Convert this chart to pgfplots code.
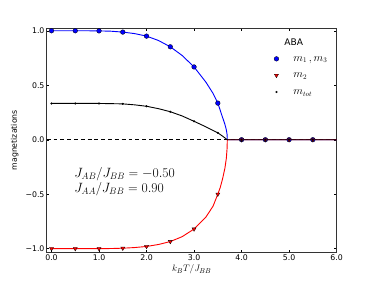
\documentclass[border=0pt]{standalone}
\usepackage{fontspec}
\setmainfont{DejaVu Sans}
\usepackage{pgfplots}
\pgfplotsset{compat=1.18}
\pgfplotsset{widemark/.style={legend image code/.code={\path[draw=none,fill=none] (0cm,0cm) -- (1.2cm,0cm); \draw[##1,mark repeat=2,mark phase=2] plot coordinates {(0cm,0cm)(0.35cm,0cm)(1.2cm,0cm)};}}}
\begin{document}
\begin{tikzpicture}
\useasboundingbox (0,0) rectangle (576pt,432pt);
\begin{axis}[
  at={(72pt,43.2pt)}, anchor=south west,
  width=446.4pt, height=345.6pt, scale only axis,
  xmin=-0.1, xmax=6, ymin=-1.035, ymax=1.025,
  xtick={0,1,2,3,4,5,6},
  xticklabels={0.0,1.0,2.0,3.0,4.0,5.0,6.0},
  ytick={-1,-0.5,0,0.5,1},
  yticklabels={−1.0,−0.5,0.0,0.5,1.0},
  tick align=inside,
  major tick length=4pt,
  tick style={black, line width=0.6pt},
  axis line style={line width=0.8pt, black!80},
  tick label style={font=\fontsize{12}{14}\selectfont},
  xlabel={$k_B T/J_{BB}$},
  ylabel={magnetizations},
  xlabel style={font=\fontsize{15}{18}\selectfont, at={(axis description cs:0.5,-0.076)}, anchor=center},
  ylabel style={font=\fontsize{12}{14}\selectfont, at={(axis description cs:-0.1107,0.5)}, anchor=center},
  legend style={draw=none, fill=none, at={(axis description cs:0.763,0.906)}, anchor=north west,
    font=\fontsize{16}{19}\selectfont, row sep=0pt,
    nodes={text height=13pt, text depth=5.5pt, inner ysep=3.5pt}},
  legend cell align=left,
  clip=true,
]
% zero line
\addplot[black, dashed, dash pattern=on 6pt off 4.5pt, line width=1pt, forget plot] coordinates {(-0.1,0) (6,0)};
% blue curve
\addplot[blue, line width=1.4pt, forget plot] coordinates {
(0,1.000)(0.25,1.000)(0.5,1.000)(0.75,1.000)(1.0,0.999)(1.25,0.996)(1.5,0.988)(1.75,0.974)
(2.0,0.951)(2.25,0.911)(2.5,0.853)(2.75,0.773)(3.0,0.668)(3.25,0.528)(3.4,0.425)(3.5,0.336)
(3.6,0.205)(3.65,0.14)(3.68,0.09)(3.695,0.05)(3.70,0)(6.0,0)};
% red curve
\addplot[red, line width=1.4pt, forget plot] coordinates {
(0,-1)(0.5,-1)(1.0,-1)(1.25,-0.999)(1.5,-0.996)(1.75,-0.99)(2.0,-0.98)(2.25,-0.962)
(2.5,-0.935)(2.75,-0.89)(3.0,-0.82)(3.25,-0.71)(3.4,-0.61)(3.5,-0.50)(3.55,-0.44)
(3.6,-0.36)(3.65,-0.26)(3.68,-0.17)(3.695,-0.08)(3.70,0)(6.0,0)};
% black curve
\addplot[black, line width=1.4pt, forget plot] coordinates {
(0,0.333)(0.5,0.333)(1.0,0.333)(1.5,0.329)(1.75,0.32)(2.0,0.307)(2.25,0.285)(2.5,0.257)
(2.75,0.218)(3.0,0.169)(3.25,0.118)(3.5,0.063)(3.6,0.033)(3.70,0)(6.0,0)};
% markers
\addplot[only marks, mark=*, mark size=3.6pt, mark options={fill=blue, draw=black, line width=0.5pt}, widemark]
  coordinates {(0,1.0)(0.5,1.0)(1.0,0.999)(1.5,0.988)(2.0,0.951)(2.5,0.853)(3.0,0.668)(3.5,0.336)(4.0,0)(4.5,0)(5.0,0)(5.5,0)};
\addlegendentry{$m_1\,,m_3$}
\addplot[only marks, mark=triangle*, mark size=3.6pt, mark options={rotate=180, fill=red, draw=black, line width=0.5pt}, widemark]
  coordinates {(0,-1)(0.5,-1)(1.0,-1)(1.5,-0.996)(2.0,-0.98)(2.5,-0.935)(3.0,-0.82)(3.5,-0.50)(4.0,0)(4.5,0)(5.0,0)(5.5,0)};
\addlegendentry{$m_2$}
\addplot[only marks, mark=*, mark size=1.4pt, mark options={fill=black, draw=black}, widemark]
  coordinates {(0,0.333)(0.5,0.333)(1.0,0.333)(1.5,0.329)(2.0,0.307)(2.5,0.257)(3.0,0.169)(3.5,0.063)(4.0,0)(4.5,0)(5.0,0)(5.5,0)};
\addlegendentry{$m_{tot}$}
\node[font=\fontsize{14}{17}\selectfont, anchor=center] at (rel axis cs:0.852,0.9375) {ABA};
\node[font=\fontsize{19.5}{24}\selectfont, anchor=base west, inner sep=0pt] at (axis cs:0.48,-0.347) {$J_{AB}/J_{BB}=-0.50$};
\node[font=\fontsize{19.5}{24}\selectfont, anchor=base west, inner sep=0pt] at (axis cs:0.48,-0.485) {$J_{AA}/J_{BB}=0.90$};
\end{axis}
\end{tikzpicture}
\end{document}
